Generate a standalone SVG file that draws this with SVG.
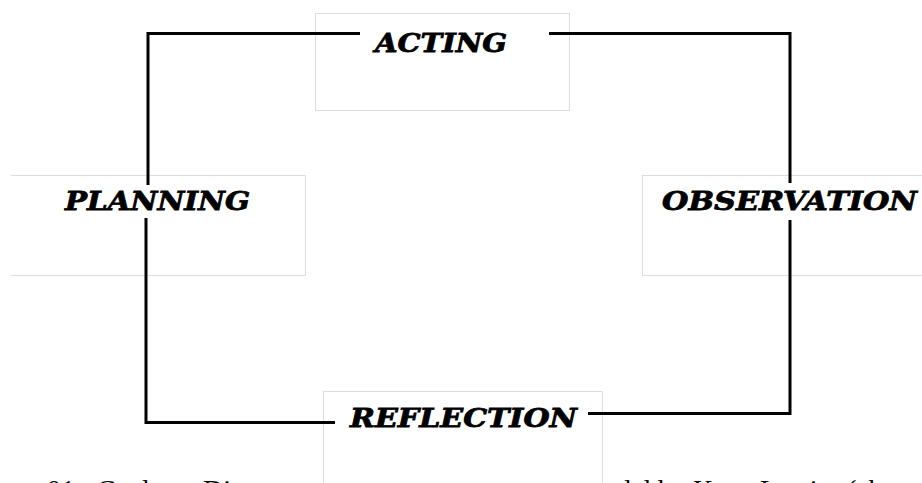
<svg xmlns="http://www.w3.org/2000/svg" width="922" height="483" viewBox="0 0 922 483">
<style>
.box{fill:#fff;stroke:#dcdcdc;stroke-width:1}
.conn{fill:none;stroke:#000;stroke-width:3;stroke-linejoin:miter}
.lbl{font-family:"DejaVu Serif","Liberation Serif",serif;font-weight:bold;font-style:italic;font-size:26px;fill:#000;stroke:#000;stroke-width:0.8}
.cap{font-family:"Liberation Serif","Times New Roman",serif;font-size:28px;fill:#000}
</style>
<rect width="922" height="483" fill="#fff"/>
<g id="caption">
<text class="cap" y="499"><tspan x="47">01.</tspan><tspan x="97">Cycles</tspan><tspan x="203">Di</tspan><tspan x="617">del</tspan><tspan x="658">by</tspan><tspan x="693">Kurt</tspan><tspan x="760">Lewin</tspan><tspan x="847">(ab</tspan></text>
</g>
<g id="acting">
<rect class="box" x="315.5" y="13.5" width="254" height="97"/>
</g>
<g id="planning">
<path class="box" d="M11 175.5 H305.5 V275.5 H11"/>
</g>
<g id="observation">
<rect class="box" x="642.5" y="175.5" width="300" height="100"/>
</g>
<g id="reflection">
<rect class="box" x="323.5" y="391.5" width="279" height="120"/>
</g>
<g id="connectors">
<path class="conn" d="M360 33.5 H148 V185"/>
<path class="conn" d="M146 218 V422.5 H335"/>
<path class="conn" d="M549 33.5 H790 V183"/>
<path class="conn" d="M790 220 V413.5 H588"/>
</g>
<g id="labels">
<text class="lbl" x="375" y="52" textLength="132" lengthAdjust="spacingAndGlyphs">ACTING</text>
<text class="lbl" x="65" y="210" textLength="185" lengthAdjust="spacingAndGlyphs">PLANNING</text>
<text class="lbl" x="662" y="210" textLength="255" lengthAdjust="spacingAndGlyphs">OBSERVATION</text>
<text class="lbl" x="350" y="427" textLength="227" lengthAdjust="spacingAndGlyphs">REFLECTION</text>
</g>
</svg>
